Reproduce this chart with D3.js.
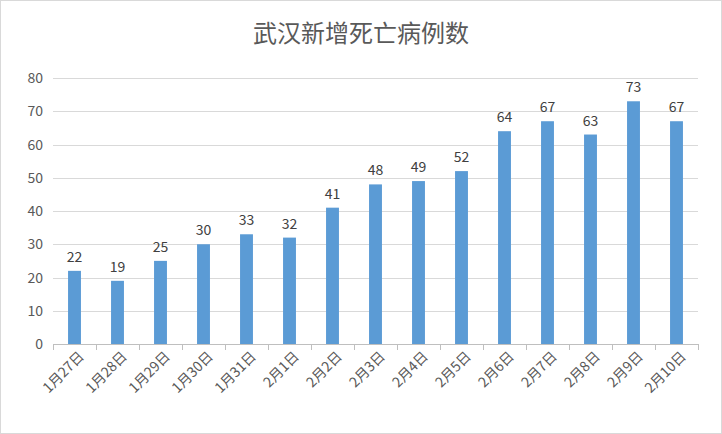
<!DOCTYPE html>
<html><head><meta charset="utf-8">
<script src="https://cdn.jsdelivr.net/npm/d3@7/dist/d3.min.js"></script>
<style>body{margin:0;background:#fff}svg{display:block}</style>
</head><body>
<script>
const categories = ["1月27日","1月28日","1月29日","1月30日","1月31日","2月1日","2月2日","2月3日","2月4日","2月5日","2月6日","2月7日","2月8日","2月9日","2月10日"];
const deaths = [22,19,25,30,33,32,41,48,49,52,64,67,63,73,67];
const yTicks = [0,10,20,30,40,50,60,70,80];
const title = "武汉新增死亡病例数";

const W=722,H=434;
const font="'Noto Sans CJK SC','Liberation Sans',sans-serif";
const svg=d3.select("body").append("svg").attr("width",W).attr("height",H);
svg.append("rect").attr("x",0.5).attr("y",0.5).attr("width",W-1).attr("height",H-1).attr("fill","#fff").attr("stroke","#d9d9d9");
const x=d3.scaleBand().domain(categories).range([53,698]).paddingInner(0.7).paddingOuter(0.35);
const y=d3.scaleLinear().domain([0,80]).range([344,78]);
svg.append("text").attr("x",W/2).attr("y",42).attr("text-anchor","middle").attr("font-family",font).attr("font-size",24).attr("fill","#595959").text(title);
const g=svg.append("g");
g.selectAll("line.grid").data(yTicks).join("line").attr("x1",53).attr("x2",698).attr("y1",d=>Math.round(y(d))+0.5).attr("y2",d=>Math.round(y(d))+0.5).attr("stroke",d=>d===0?"#bfbfbf":"#d9d9d9");
g.selectAll("text.yt").data(yTicks).join("text").attr("x",43).attr("y",d=>y(d)+5).attr("text-anchor","end").attr("font-family",font).attr("font-size",14).attr("fill","#595959").text(d=>d);
g.selectAll("line.xt").data(d3.range(categories.length+1)).join("line").attr("x1",i=>Math.round(53+i*(645/15))+0.5).attr("x2",i=>Math.round(53+i*(645/15))+0.5).attr("y1",344).attr("y2",350).attr("stroke","#bfbfbf");
g.selectAll("rect.bar").data(deaths).join("rect").attr("x",(d,i)=>x(categories[i])).attr("width",x.bandwidth()).attr("y",d=>y(d)).attr("height",d=>y(0)-y(d)).attr("fill","#5b9bd5");
g.selectAll("text.lbl").data(deaths).join("text").attr("x",(d,i)=>x(categories[i])+x.bandwidth()/2).attr("y",d=>y(d)-9).attr("text-anchor","middle").attr("font-family",font).attr("font-size",14).attr("fill","#404040").text(d=>d);
g.selectAll("text.xl").data(categories).join("text").attr("transform",d=>`translate(${x(d)+x.bandwidth()/2+7},354) rotate(-45)`).attr("text-anchor","end").attr("dy","0.35em").attr("font-family",font).attr("font-size",14).attr("fill","#595959").text(d=>d);
</script>
</body></html>
